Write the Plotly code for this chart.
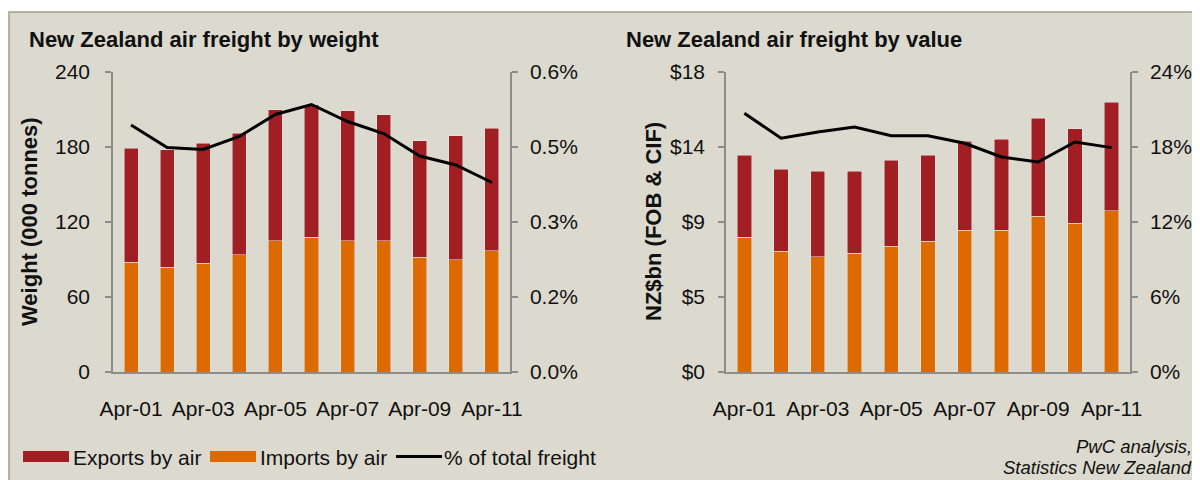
import plotly.graph_objects as go

# ---------------- data ----------------
years = ["Apr-01", "Apr-02", "Apr-03", "Apr-04", "Apr-05", "Apr-06",
         "Apr-07", "Apr-08", "Apr-09", "Apr-10", "Apr-11"]
shown_ticks = ["Apr-01", "Apr-03", "Apr-05", "Apr-07", "Apr-09", "Apr-11"]

# weight chart (000 tonnes) and share of total freight (%)
w_imports = [88, 84, 87, 94, 105, 108, 105, 105, 92, 90, 97]
w_exports = [91, 94, 96, 97, 105, 106, 104, 101, 93, 99, 98]
w_share = [0.494, 0.449, 0.445, 0.471, 0.515, 0.535, 0.501, 0.477, 0.432, 0.414, 0.379]

# value chart (NZ$bn) and share of total freight (%)
v_imports = [8.10, 7.26, 6.92, 7.14, 7.56, 7.86, 8.52, 8.52, 9.36, 8.94, 9.68]
v_exports = [4.92, 4.92, 5.14, 4.92, 5.14, 5.16, 5.34, 5.46, 5.88, 5.66, 6.50]
v_share = [20.7, 18.7, 19.2, 19.6, 18.9, 18.9, 18.3, 17.2, 16.8, 18.4, 17.95]

w_left_ticks = [0, 60, 120, 180, 240]
w_left_text = ["0", "60", "120", "180", "240"]
w_right_ticks = [0, 0.15, 0.30, 0.45, 0.60]
w_right_text = ["0.0%", "0.2%", "0.3%", "0.5%", "0.6%"]
v_left_ticks = [0, 4.5, 9, 13.5, 18]
v_left_text = ["$0", "$5", "$9", "$14", "$18"]
v_right_ticks = [0, 6, 12, 18, 24]
v_right_text = ["0%", "6%", "12%", "18%", "24%"]

# ---------------- styles ----------------
RED = "#A11F23"
ORANGE = "#DC6A00"
BG = "#DCD9CE"
AXIS = "#8C8C8C"
FONT = "Liberation Sans, Arial, sans-serif"
# the page body has an 8px margin: size the figure so it fills the window
OX, OY = 8, 8
W, H = 1192, 472

def px(x):
    return (x - OX) / W

def py(y):
    return 1 - (y - OY) / H

fig = go.Figure()

# weight chart
fig.add_trace(go.Bar(x=years, y=w_imports, marker_color=ORANGE, xaxis="x", yaxis="y",
                     name="Imports by air", showlegend=False))
fig.add_trace(go.Bar(x=years, y=w_exports, marker_color=RED, xaxis="x", yaxis="y",
                     name="Exports by air", showlegend=False))
fig.add_trace(go.Scatter(x=years, y=w_share, mode="lines", line=dict(color="black", width=3),
                         xaxis="x", yaxis="y2", name="% of total freight", showlegend=False))
# value chart
fig.add_trace(go.Bar(x=years, y=v_imports, marker_color=ORANGE, xaxis="x2", yaxis="y3",
                     name="Imports by air", showlegend=False))
fig.add_trace(go.Bar(x=years, y=v_exports, marker_color=RED, xaxis="x2", yaxis="y3",
                     name="Exports by air", showlegend=False))
fig.add_trace(go.Scatter(x=years, y=v_share, mode="lines", line=dict(color="black", width=3),
                         xaxis="x2", yaxis="y4", name="% of total freight", showlegend=False))

tickfont = dict(family=FONT, size=21, color="#111111")
ydom = [py(372), py(72)]

def xax(domain, anchor):
    return dict(domain=domain, anchor=anchor, type="category", categoryorder="array",
                categoryarray=years, tickvals=shown_ticks, ticktext=shown_ticks,
                showline=True, linecolor=AXIS, linewidth=1.5, ticks="",
                showgrid=False, zeroline=False, tickfont=tickfont, ticklabelstandoff=17,
                fixedrange=True, automargin=False)

def yax(rng, tv, tt, anchor, side="left", overlaying=None, standoff=10):
    d = dict(range=rng, domain=ydom, anchor=anchor, side=side, tickvals=tv, ticktext=tt,
             showline=True, linecolor=AXIS, linewidth=1.5, ticks="outside", ticklen=6,
             tickcolor=AXIS, tickwidth=1.5, showgrid=False, zeroline=False,
             tickfont=tickfont, ticklabelstandoff=standoff, fixedrange=True, automargin=False)
    if overlaying:
        d["overlaying"] = overlaying
    return d

fig.update_layout(
    width=W, height=H,
    autosize=False,
    margin=dict(l=0, r=0, t=0, b=0, pad=0, autoexpand=False),
    paper_bgcolor=BG,
    plot_bgcolor="rgba(0,0,0,0)",
    barmode="stack",
    bargap=0.61,
    showlegend=False,
    font=dict(family=FONT, size=21, color="#111111"),
    xaxis=xax([px(113), px(510)], "y"),
    yaxis=yax([0, 240], w_left_ticks, w_left_text, "x", standoff=11),
    yaxis2=yax([0, 0.6], w_right_ticks, w_right_text, "x", side="right", overlaying="y", standoff=8),
    xaxis2=xax([px(726), px(1130)], "y3"),
    yaxis3=yax([0, 18], v_left_ticks, v_left_text, "x2", standoff=9),
    yaxis4=yax([0, 24], v_right_ticks, v_right_text, "x2", side="right", overlaying="y3", standoff=8),
)

shapes = [
    # white strip above the panel and the panel border
    dict(type="rect", xref="paper", yref="paper", x0=-0.02, x1=1.02, y0=py(12), y1=1.05,
         fillcolor="white", line=dict(width=0), layer="below"),
    dict(type="rect", xref="paper", yref="paper", x0=-0.02, x1=px(9), y0=-0.05, y1=1.05,
         fillcolor="white", line=dict(width=0), layer="below"),
    dict(type="rect", xref="paper", yref="paper", x0=px(9), x1=1.02, y0=-0.05, y1=py(12),
         fillcolor=BG, line=dict(color="#A39E86", width=1.5), layer="below"),
    # legend swatches
    dict(type="rect", xref="paper", yref="paper", x0=px(23), x1=px(69), y0=py(462), y1=py(451),
         fillcolor=RED, line=dict(width=0)),
    dict(type="rect", xref="paper", yref="paper", x0=px(210), x1=px(256), y0=py(462), y1=py(451),
         fillcolor=ORANGE, line=dict(width=0)),
    dict(type="line", xref="paper", yref="paper", x0=px(396), x1=px(442), y0=py(456.5), y1=py(456.5),
         line=dict(color="black", width=3)),
]
fig.update_layout(shapes=shapes)

ann = []
def text(x, y, s, size=21, bold=False, italic=False, xanchor="left", angle=0):
    t = s
    if bold:
        t = "<b>" + t + "</b>"
    if italic:
        t = "<i>" + t + "</i>"
    ann.append(dict(xref="paper", yref="paper", x=px(x), y=py(y), text=t, showarrow=False,
                    xanchor=xanchor, yanchor="middle", textangle=angle,
                    font=dict(family=FONT, size=size, color="#111111")))

text(27, 39, "New Zealand air freight by weight", size=22, bold=True)
text(624, 39, "New Zealand air freight by value", size=22, bold=True)
text(29, 222, "Weight (000 tonnes)", size=22, bold=True, xanchor="center", angle=-90)
text(653, 222, "NZ$bn (FOB & CIF)", size=22, bold=True, xanchor="center", angle=-90)
text(71, 457, "Exports by air")
text(258, 457, "Imports by air")
text(442, 457, "% of total freight")
text(1194, 446, "PwC analysis,", size=18.5, italic=True, xanchor="right")
text(1194, 467, "Statistics New Zealand", size=18.5, italic=True, xanchor="right")
fig.update_layout(annotations=ann)

fig.write_html("out.html")
